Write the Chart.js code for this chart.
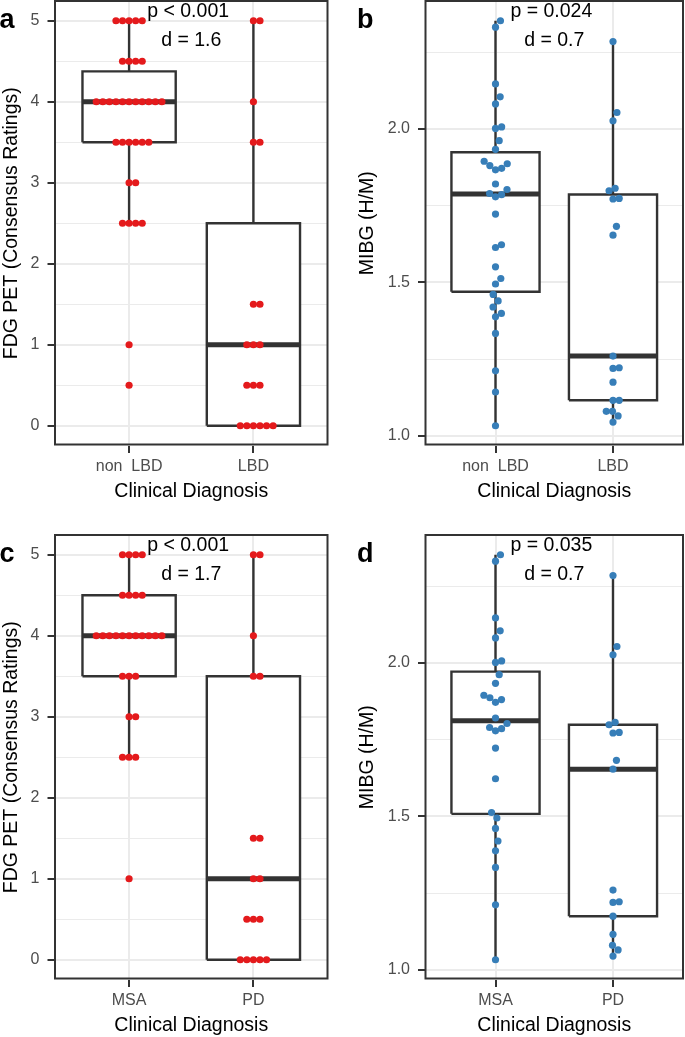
<!DOCTYPE html>
<html>
<head>
<meta charset="utf-8">
<script src="https://cdn.jsdelivr.net/npm/chart.js@4.4.0/dist/chart.umd.min.js"></script>
<style>
  body { margin: 0; background: #fff; width: 685px; height: 1037px; position: relative; overflow: hidden; }
  .panel { position: absolute; height: 503px; }
</style>
</head>
<body>
<div class="panel" style="left:0;top:0;width:340px"><canvas id="chartA"></canvas></div>
<div class="panel" style="left:340px;top:0;width:345px"><canvas id="chartB"></canvas></div>
<div class="panel" style="left:0;top:534px;width:340px"><canvas id="chartC"></canvas></div>
<div class="panel" style="left:340px;top:534px;width:345px"><canvas id="chartD"></canvas></div>
<script>
// FDG PET consensus ratings per patient
const fdgNonLBD = [5, 5, 5, 5, 5, 4.5, 4.5, 4.5, 4.5, 4, 4, 4, 4, 4, 4, 4, 4, 4, 4, 4,
    3.5, 3.5, 3.5, 3.5, 3.5, 3.5, 3, 3, 2.5, 2.5, 2.5, 2.5, 1, 0.5];
const fdgLBD = [5, 5, 4, 3.5, 3.5, 1.5, 1.5, 1, 1, 1, 0.5, 0.5, 0.5, 0, 0, 0, 0, 0, 0];
const fdgMSA = [5, 5, 5, 5, 4.5, 4.5, 4.5, 4.5, 4, 4, 4, 4, 4, 4, 4, 4, 4, 4, 4,
    3.5, 3.5, 3.5, 3, 3, 2.5, 2.5, 2.5, 1];
const fdgPD = [5, 5, 4, 3.5, 3.5, 1.5, 1.5, 1, 1, 0.5, 0.5, 0.5, 0, 0, 0, 0, 0];

// MIBG heart-to-mediastinum ratio per patient
const mibgNonLBD = [2.353, 2.332, 2.147, 2.105, 2.082, 2.007, 2.002, 1.962, 1.934, 1.895,
    1.887, 1.881, 1.872, 1.867, 1.821, 1.803, 1.790, 1.786, 1.779, 1.723, 1.623, 1.614,
    1.551, 1.513, 1.495, 1.461, 1.440, 1.420, 1.399, 1.388, 1.334, 1.212, 1.143, 1.033];
const mibgLBD = [2.285, 2.054, 2.027, 1.807, 1.799, 1.774, 1.772, 1.683, 1.654, 1.260,
    1.222, 1.220, 1.175, 1.116, 1.116, 1.080, 1.080, 1.065, 1.045];
const mibgMSA = [2.353, 2.332, 2.147, 2.105, 2.082, 2.007, 2.002, 1.962, 1.934, 1.895,
    1.887, 1.881, 1.872, 1.821, 1.803, 1.790, 1.786, 1.779, 1.723, 1.623, 1.513, 1.495,
    1.461, 1.420, 1.388, 1.334, 1.212, 1.033];
const mibgPD = [2.285, 2.054, 2.027, 1.807, 1.799, 1.774, 1.772, 1.683, 1.654, 1.260,
    1.222, 1.220, 1.175, 1.116, 1.080, 1.065, 1.045];

const groupsLBD = ['non  LBD', 'LBD'];
const groupsPD = ['MSA', 'PD'];

const fdgTicks = [0, 1, 2, 3, 4, 5];
const fdgMinor = [0.5, 1.5, 2.5, 3.5, 4.5];
const fdgTickLabels = ['0', '1', '2', '3', '4', '5'];
const mibgTicks = [1.0, 1.5, 2.0];
const mibgMinor = [1.25, 1.75, 2.25];
const mibgTickLabels = ['1.0', '1.5', '2.0'];

const notesA = ['p < 0.001', 'd = 1.6'];
const notesB = ['p = 0.024', 'd = 0.7'];
const notesC = ['p < 0.001', 'd = 1.7'];
const notesD = ['p = 0.035', 'd = 0.7'];

const FONT = "'Liberation Sans', Arial, Helvetica, sans-serif";
const RED = '#E41A1C';
const BLUE = '#377EB8';
const DARK = '#333333';
const SWARM = 0.024; // point spacing as a fraction of each axis range

Chart.defaults.font.family = FONT;

// ggplot style quantile (type 7)
function quantile(sorted, p) {
    const h = (sorted.length - 1) * p;
    const lo = Math.floor(h);
    const next = lo + 1 < sorted.length ? sorted[lo + 1] : sorted[lo];
    return sorted[lo] + (h - lo) * (next - sorted[lo]);
}

function boxStats(values) {
    const s = [...values].sort((a, b) => a - b);
    const q1 = quantile(s, 0.25), med = quantile(s, 0.5), q3 = quantile(s, 0.75);
    const iqr = q3 - q1;
    const lo = s.find(v => v >= q1 - 1.5 * iqr);
    const hi = [...s].reverse().find(v => v <= q3 + 1.5 * iqr);
    return { q1, med, q3, lo, hi };
}

// beeswarm "swarm" layout: place points in ascending order, closest to centre
function swarmOffsets(values, dsize) {
    const order = values.map((v, i) => i).sort((a, b) => values[a] - values[b] || a - b);
    const placed = [];
    const out = new Array(values.length).fill(0);
    order.forEach(i => {
        const v = values[i] / dsize;
        const near = placed.filter(p => v - p.v < 1)
            .sort((a, b) => Math.abs(a.off) - Math.abs(b.off));
        const plus = near.map(p => p.off + Math.sqrt(1 - (v - p.v) ** 2));
        const minus = near.map(p => p.off - Math.sqrt(1 - (v - p.v) ** 2));
        let best = Infinity;
        [0, ...plus, ...minus].forEach(c => {
            const bad = near.some(p => (v - p.v) ** 2 + (c - p.off) ** 2 < 0.999);
            if (!bad && Math.abs(c) < Math.abs(best)) best = c;
        });
        out[i] = best;
        placed.push({ v, off: best });
    });
    return out;
}

// draws panel border, panel letter and the p / d annotations
const panelText = {
    id: 'panelText',
    afterDraw(chart, args, opts) {
        const { ctx, chartArea: a, scales: { x, y } } = chart;
        ctx.save();
        ctx.strokeStyle = DARK;
        ctx.lineWidth = 2;
        ctx.strokeRect(a.left + 0.5, a.top + 0.5, a.right - a.left - 1, a.bottom - a.top - 2);

        ctx.fillStyle = '#000';
        ctx.font = 'bold 27px ' + FONT;
        ctx.textAlign = 'left';
        ctx.textBaseline = 'alphabetic';
        ctx.fillText(opts.tag, opts.tagX, 27.5);

        ctx.font = '19.5px ' + FONT;
        ctx.textAlign = 'center';
        ctx.textBaseline = 'middle';
        const span = y.max - y.min;
        ctx.fillText(opts.notes[0], x.getPixelForValue(1.475), y.getPixelForValue(y.min + 0.975 * span));
        ctx.fillText(opts.notes[1], x.getPixelForValue(1.5), y.getPixelForValue(y.min + 0.91 * span));
        ctx.restore();
    }
};

function makePanel(id, p) {
    const all = p.series.flat();
    const lo = Math.min(...all), hi = Math.max(...all);
    const yMin = lo - 0.05 * (hi - lo), yMax = hi + 0.05 * (hi - lo);
    const dsize = SWARM * (yMax - yMin);
    const gsize = SWARM * 2.2;
    const isMajor = v => p.ticks.includes(v);

    const datasets = [];
    p.series.forEach((values, g) => {
        const cx = g + 1;
        const st = boxStats(values);
        const offs = swarmOffsets(values, dsize);
        const lineBase = { type: 'line', showLine: true, pointRadius: 0, pointHitRadius: 0,
            borderColor: DARK, tension: 0, fill: false };
        datasets.push({
            type: 'scatter', order: 0,
            data: values.map((v, k) => ({ x: cx + offs[k] * gsize, y: v })),
            pointRadius: 3.6, pointBorderWidth: 0,
            pointBackgroundColor: p.color, borderColor: p.color
        });
        datasets.push({ ...lineBase, order: 1, borderWidth: 5,
            data: [{ x: cx - 0.375, y: st.med }, { x: cx + 0.375, y: st.med }] });
        datasets.push({ ...lineBase, order: 2, borderWidth: 2.4, borderJoinStyle: 'miter',
            fill: 'shape', backgroundColor: '#ffffff',
            data: [{ x: cx - 0.375, y: st.q1 }, { x: cx + 0.375, y: st.q1 },
                   { x: cx + 0.375, y: st.q3 }, { x: cx - 0.375, y: st.q3 },
                   { x: cx - 0.375, y: st.q1 }] });
        datasets.push({ ...lineBase, order: 3, borderWidth: 2.4,
            data: [{ x: cx, y: st.lo }, { x: cx, y: st.hi }] });
    });

    return new Chart(document.getElementById(id), {
        type: 'scatter',
        data: { datasets },
        options: {
            responsive: true,
            maintainAspectRatio: false,
            animation: false,
            events: [],
            devicePixelRatio: 1,
            layout: { autoPadding: false, padding: { left: 0, right: p.padRight, top: 0.5, bottom: 0 } },
            plugins: {
                legend: { display: false },
                tooltip: { enabled: false },
                panelText: { tag: p.tag, tagX: p.tagX, notes: p.notes }
            },
            scales: {
                x: {
                    type: 'linear', min: 0.4, max: 2.6,
                    afterBuildTicks: axis => { axis.ticks = [1, 2].map(v => ({ value: v })); },
                    afterFit: axis => {
                        axis.height = 57;
                        axis.paddingLeft = 0;
                        axis.paddingRight = 0;
                    },
                    border: { display: false },
                    grid: { color: '#EBEBEB', lineWidth: 2, tickColor: DARK, tickWidth: 2, tickLength: 7 },
                    ticks: { callback: v => p.groups[v - 1], color: '#4D4D4D', padding: 4,
                        autoSkip: false, maxRotation: 0, font: { size: 16 } },
                    title: { display: true, text: 'Clinical Diagnosis', color: '#000',
                        padding: 0, font: { size: 19.5, lineHeight: 1.2 } }
                },
                y: {
                    type: 'linear', min: yMin, max: yMax,
                    afterBuildTicks: axis => {
                        axis.ticks = [...p.ticks, ...p.minor].sort((a, b) => a - b).map(v => ({ value: v }));
                    },
                    afterFit: axis => {
                        axis.width = p.yWidth;
                        axis.paddingTop = 0;
                        axis.paddingBottom = 0;
                    },
                    border: { display: false },
                    grid: {
                        color: '#EBEBEB',
                        lineWidth: c => (c.tick && isMajor(c.tick.value)) ? 2 : 1,
                        tickColor: c => (c.tick && isMajor(c.tick.value)) ? DARK : 'rgba(0,0,0,0)',
                        tickWidth: 2, tickLength: 7
                    },
                    ticks: {
                        callback: v => isMajor(v) ? p.tickLabels[p.ticks.indexOf(v)] : '',
                        color: '#4D4D4D', padding: 8, autoSkip: false, font: { size: 16 }
                    },
                    title: { display: true, text: p.yTitle, color: '#000',
                        padding: { top: p.yTitlePad, bottom: 0 }, font: { size: 19.5, lineHeight: 1.15 } }
                }
            }
        },
        plugins: [panelText]
    });
}

makePanel('chartA', { series: [fdgNonLBD, fdgLBD], groups: groupsLBD, color: RED,
    ticks: fdgTicks, minor: fdgMinor, tickLabels: fdgTickLabels,
    yTitle: 'FDG PET (Consensus Ratings)', yWidth: 54.5, yTitlePad: 0, padRight: 12,
    tag: 'a', tagX: -0.5, notes: notesA });
makePanel('chartB', { series: [mibgNonLBD, mibgLBD], groups: groupsLBD, color: BLUE,
    ticks: mibgTicks, minor: mibgMinor, tickLabels: mibgTickLabels,
    yTitle: 'MIBG (H/M)', yWidth: 85, yTitlePad: 16, padRight: 1.5,
    tag: 'b', tagX: 17, notes: notesB });
makePanel('chartC', { series: [fdgMSA, fdgPD], groups: groupsPD, color: RED,
    ticks: fdgTicks, minor: fdgMinor, tickLabels: fdgTickLabels,
    yTitle: 'FDG PET (Consensus Ratings)', yWidth: 54.5, yTitlePad: 0, padRight: 12,
    tag: 'c', tagX: -0.5, notes: notesC });
makePanel('chartD', { series: [mibgMSA, mibgPD], groups: groupsPD, color: BLUE,
    ticks: mibgTicks, minor: mibgMinor, tickLabels: mibgTickLabels,
    yTitle: 'MIBG (H/M)', yWidth: 85, yTitlePad: 16, padRight: 1.5,
    tag: 'd', tagX: 17, notes: notesD });
</script>
</body>
</html>
